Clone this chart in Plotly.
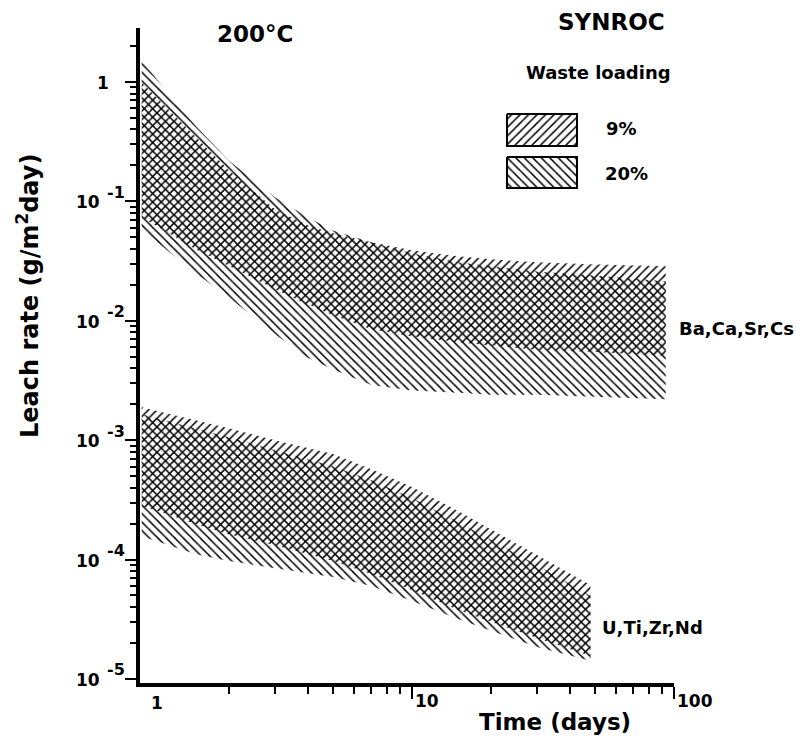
import math
import plotly.graph_objects as go

# Leach time (days) at which band limits are given
days_alk = [0.93, 1.2, 1.5, 2, 3, 4, 5, 7, 10, 15, 20, 30, 48, 93]
days_act = [0.93, 1.2, 1.5, 2, 3, 4, 5, 7, 10, 15, 20, 30, 48]

# Ba, Ca, Sr, Cs leach rate limits (g/m^2 day)
alk_9_hi = [0.99, 0.566, 0.344, 0.182, 0.0857, 0.0630, 0.0540, 0.0454, 0.0389, 0.0347, 0.0327, 0.0309, 0.0297, 0.0286]
alk_9_lo = [0.0735, 0.0530, 0.0396, 0.0286, 0.0184, 0.0137, 0.0111, 0.0085, 0.0074, 0.0066, 0.0062, 0.0057, 0.0055, 0.0051]
alk_20_hi = [1.51, 0.757, 0.425, 0.220, 0.108, 0.0735, 0.0571, 0.0454, 0.0367, 0.0309, 0.0286, 0.0259, 0.0240, 0.0214]
alk_20_lo = [0.0583, 0.0367, 0.0249, 0.0157, 0.0077, 0.0049, 0.0039, 0.0029, 0.0026, 0.0025, 0.0024, 0.0024, 0.0023, 0.0022]

# U, Ti, Zr, Nd leach rate limits (g/m^2 day)
act_9_hi = [0.00189, 0.00165, 0.00147, 0.00126, 0.00100, 0.000857, 0.000764, 0.000571, 0.000405, 0.000255, 0.000180, 0.000109, 0.0000612]
act_9_lo = [0.000281, 0.000235, 0.000198, 0.000163, 0.000132, 0.000111, 0.0000971, 0.0000757, 0.0000556, 0.0000378, 0.0000300, 0.0000220, 0.0000156]
act_20_hi = [0.00165, 0.00142, 0.00126, 0.00106, 0.000824, 0.000693, 0.000605, 0.000462, 0.000327, 0.000206, 0.000146, 0.0000899, 0.0000496]
act_20_lo = [0.000157, 0.000130, 0.000111, 0.0000971, 0.0000849, 0.0000771, 0.0000714, 0.0000600, 0.0000450, 0.0000318, 0.0000253, 0.0000185, 0.0000142]

loadings = ["9%", "20%"]
hatch = {"9%": "/", "20%": "\\"}

# decade labels of the rate axis: mantissa text and exponent text
y_decades = [1e-5, 1e-4, 1e-3, 1e-2, 1e-1, 1]
y_base = ["10", "10", "10", "10", "10", "1"]
y_exp = ["-5", "-4", "-3", "-2", "-1", ""]
# time axis: the first decade is labelled without a tick mark
x_first = 1
x_tickvals = [10, 100]
x_ticktext = ["10", "100"]

FONT = "DejaVu Sans"
W, H = 807, 739
L, R, T, B = 140, 133, 28, 56


def pattern(shape):
    return dict(shape=shape, fgcolor="black", bgcolor="rgba(0,0,0,0)", fgopacity=1,
                size=6, solidity=0.25, fillmode="overlay")


def band(x, lo, hi, shape):
    return go.Scatter(
        x=list(x) + list(x)[::-1], y=list(hi) + list(lo)[::-1],
        mode="lines", fill="toself", line=dict(width=0),
        fillcolor="black", fillpattern=pattern(shape),
        hoverinfo="skip", showlegend=False,
    )


fig = go.Figure()
fig.add_trace(band(days_alk, alk_9_lo, alk_9_hi, hatch["9%"]))
fig.add_trace(band(days_alk, alk_20_lo, alk_20_hi, hatch["20%"]))
fig.add_trace(band(days_act, act_9_lo, act_9_hi, hatch["9%"]))
fig.add_trace(band(days_act, act_20_lo, act_20_hi, hatch["20%"]))

# Legend swatches, drawn on an overlay axis in page pixels
swatches = {"9%": (507, 114, 577, 146), "20%": (507, 157, 577, 188)}
for name in loadings:
    x0, y0, x1, y1 = swatches[name]
    fig.add_trace(go.Scatter(
        x=[x0, x1, x1, x0, x0], y=[y0, y0, y1, y1, y0],
        xaxis="x2", yaxis="y2", mode="lines", fill="toself",
        line=dict(color="black", width=2), fillcolor="black",
        fillpattern=pattern(hatch[name]), hoverinfo="skip", showlegend=False,
    ))


def fx(p):
    return (p - L) / (W - L - R)


def fy(p):
    return 1 - (p - T) / (H - T - B)


def bold(size):
    return dict(family=FONT, size=size, color="black", weight="bold")


def note(text, x, y, size, xanchor="center", angle=0):
    fig.add_annotation(text=text, x=fx(x), y=fy(y), xref="paper", yref="paper",
                       xanchor=xanchor, yanchor="middle", showarrow=False, textangle=angle,
                       font=bold(size))


note("200°C", 255, 34, 23)
note("SYNROC", 611, 22, 23)
note("Waste loading", 598, 72, 18)
note("9%", 604, 128, 18, "left")
note("20%", 603, 173, 18, "left")
note("Ba,Ca,Sr,Cs", 677, 328, 18, "left")
note("U,Ti,Zr,Nd", 600, 627, 18, "left")
note("Time (days)", 555, 722, 23)
note("Leach rate (g/m<sup>2</sup>day)", 28, 296, 24, angle=-90)

# Rate-axis labels placed at each decade on the y scale, exponent raised
for v, base, ex in zip(y_decades, y_base, y_exp):
    fig.add_annotation(text=base, x=0, xref="paper", y=math.log10(v), yref="y",
                       xanchor="right", yanchor="middle", showarrow=False,
                       xshift=-38 if ex else -29, yshift=-1, font=bold(17))
    if ex:
        fig.add_annotation(text=ex, x=0, xref="paper", y=math.log10(v), yref="y",
                           xanchor="left", yanchor="middle", showarrow=False,
                           xshift=-35, yshift=9, font=bold(16))

# "1" under the start of the time axis
fig.add_annotation(text=str(x_first), x=math.log10(x_first), xref="x", y=0, yref="paper",
                   xanchor="left", yanchor="middle", showarrow=False,
                   xshift=-1, yshift=-20, font=bold(17))

fig.update_layout(
    width=W, height=H, margin=dict(l=L, r=R, t=T, b=B),
    paper_bgcolor="white", plot_bgcolor="white",
    font=dict(family=FONT, color="black"),
    xaxis=dict(type="log", range=[-0.038, 2], showgrid=False, zeroline=False,
               showline=True, linewidth=4, linecolor="black",
               ticks="outside", ticklen=12, tickwidth=2, tickcolor="black",
               tickmode="array", tickvals=x_tickvals, ticktext=x_ticktext,
               ticklabelposition="outside right", tickfont=bold(17),
               minor=dict(ticks="outside", ticklen=7, tickwidth=2, tickcolor="black",
                          tickmode="array",
                          tickvals=[2, 3, 4, 5, 6, 7, 8, 9, 20, 30, 40, 50, 60, 70, 80, 90])),
    yaxis=dict(type="log", range=[-5.034, 0.452], showgrid=False, zeroline=False,
               showline=True, linewidth=4, linecolor="black",
               ticks="outside", ticklen=11, tickwidth=2, tickcolor="black",
               tickmode="array", tickvals=y_decades, showticklabels=False,
               minor=dict(ticks="outside", ticklen=6, tickwidth=2, tickcolor="black",
                          tickmode="array",
                          tickvals=[m * 10.0 ** e for e in range(-5, 1) for m in range(2, 10)])),
    xaxis2=dict(overlaying="x", range=[L, W - R], visible=False, showgrid=False),
    yaxis2=dict(overlaying="y", range=[H - B, T], visible=False, showgrid=False),
)

fig.write_html("out.html")
